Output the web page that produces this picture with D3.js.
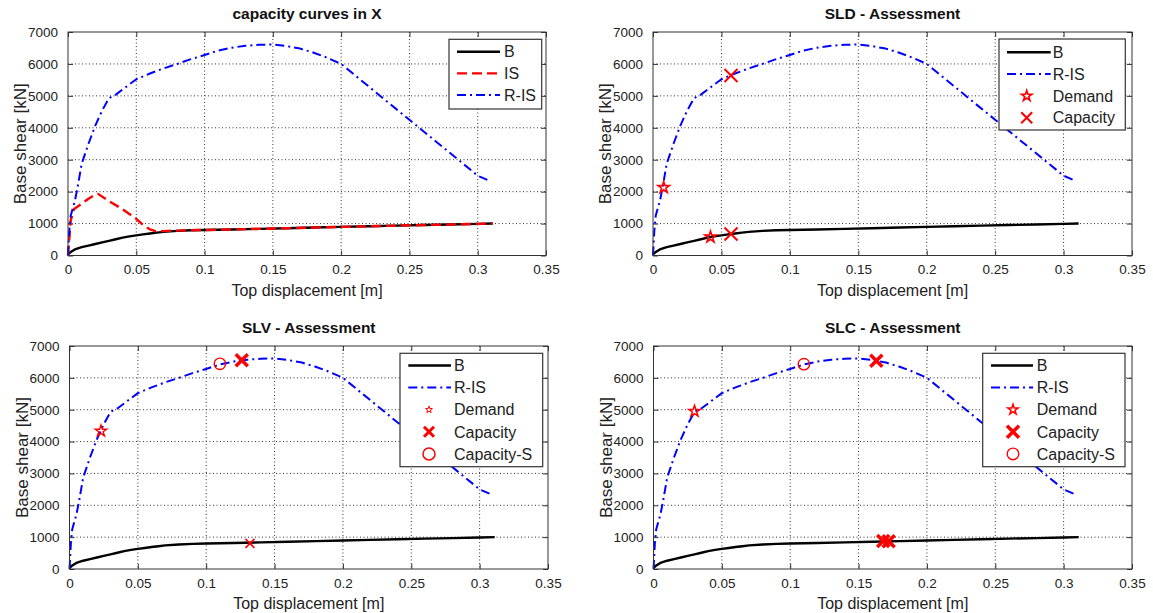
<!DOCTYPE html>
<html>
<head>
<meta charset="utf-8">
<script src="https://cdn.jsdelivr.net/npm/d3@7"></script>
<style>
body{margin:0;background:#fff;}
svg{display:block;font-family:"Liberation Sans",Arial,sans-serif;}
</style>
</head>
<body>
<div id="plot"></div>
<script>
// capacity curves (top displacement [m], base shear [kN])
var bX = [0,0.002,0.005,0.01,0.015,0.02,0.025,0.03,0.035,0.04,0.045,0.05,0.055,0.06,0.065,0.07,0.08,0.09,0.1,0.12,0.14,0.16,0.18,0.2,0.22,0.24,0.26,0.28,0.3,0.311];
var bY = [40,110,190,260,310,360,410,460,510,560,600,630,660,690,715,740,770,790,800,815,835,855,875,895,915,935,955,970,990,1000];

var isX = [0,0.002,0.0045,0.01,0.015,0.02,0.022,0.03,0.04,0.05,0.055,0.06,0.064,0.07,0.08,0.1,0.12,0.14,0.16,0.18,0.2,0.22,0.24,0.26,0.28,0.3,0.311];
var isY = [0,1100,1460,1620,1780,1910,1930,1700,1450,1150,950,820,760,765,780,800,815,835,855,875,895,915,935,955,970,990,1000];

var risX = [0,0.001,0.002,0.005,0.007,0.01,0.015,0.02,0.025,0.03,0.035,0.04,0.05,0.06,0.07,0.08,0.09,0.1,0.11,0.12,0.13,0.14,0.15,0.16,0.17,0.18,0.19,0.2,0.21,0.22,0.23,0.24,0.25,0.26,0.27,0.28,0.29,0.3,0.308];
var risY = [0,800,1250,1700,2130,2870,3500,4070,4540,4930,5040,5200,5520,5700,5860,6000,6150,6280,6420,6510,6570,6600,6610,6560,6480,6350,6190,6000,5650,5300,4950,4600,4250,3900,3550,3200,2850,2500,2350];

var xTicks = [0,0.05,0.1,0.15,0.2,0.25,0.3,0.35];
var xTickLabels = ['0','0.05','0.1','0.15','0.2','0.25','0.3','0.35'];
var yTicks = [0,1000,2000,3000,4000,5000,6000,7000];

var titles = ['capacity curves in X','SLD - Assessment','SLV - Assessment','SLC - Assessment'];

// assessment points
var sldDemandX = [0.0078,0.042], sldDemandY = [2130,580];
var sldCapX = [0.057,0.057], sldCapY = [5640,675];
var slvDemandX = [0.023], slvDemandY = [4330];
var slvCapRX = [0.126], slvCapRY = [6550];
var slvCapBX = [0.132], slvCapBY = [805];
var slvCapSX = [0.11], slvCapSY = [6440];
var slcDemandX = [0.03], slcDemandY = [4950];
var slcCapX = [0.163,0.168,0.172], slcCapY = [6540,880,870];
var slcCapSX = [0.11], slcCapSY = [6430];

var zip = function(xs, ys){ return xs.map(function(x,i){ return [x, ys[i]]; }); };

var curves = {
  'B':    {pts: zip(bX,bY),     color:'#000', width:2.4, dash:null},
  'IS':   {pts: zip(isX,isY),   color:'#f00', width:2.4, dash:'10,5'},
  'R-IS': {pts: zip(risX,risY), color:'#00f', width:2, dash:'9,4,2,4'}
};

// layout of the four axes
var panels = [
  {title:0, l:68, t:32, r:546, b:255.5, curves:['B','IS','R-IS'], marks:[],
   legend:{x:449, y:39.3, w:92.7, h:69.7, lx1:457, lx2:500, mx:478, tx:504, y0:51.7, dy:21.7,
     items:[{c:'B'},{c:'IS'},{c:'R-IS'}]}},
  {title:1, l:653, t:32, r:1132, b:255.5, curves:['B','R-IS'],
   marks:[
     {type:'star', pts:zip(sldDemandX,sldDemandY), size:6, sw:1.6},
     {type:'x', pts:zip(sldCapX,sldCapY), size:6.5, sw:2}],
   legend:{x:999, y:39, w:126.3, h:91, lx1:1007, lx2:1050.7, mx:1026.7, tx:1052.7, y0:52.3, dy:21.8,
     items:[{c:'B'},{c:'R-IS'},{m:{type:'star',size:5.5,sw:1.6},label:'Demand'},{m:{type:'x',size:5.5,sw:2},label:'Capacity'}]}},
  {title:2, l:69.5, t:346, r:548, b:569, curves:['B','R-IS'],
   marks:[
     {type:'star', pts:zip(slvDemandX,slvDemandY), size:6, sw:1.4},
     {type:'circle', pts:zip(slvCapSX,slvCapSY), size:5.7, sw:1.4},
     {type:'x', pts:zip(slvCapRX,slvCapRY), size:6, sw:3.5},
     {type:'x', pts:zip(slvCapBX,slvCapBY), size:4.5, sw:1.6}],
   legend:{x:400, y:353.3, w:142.7, h:113.4, lx1:408.3, lx2:451, mx:429, tx:454, y0:365.5, dy:22.1,
     items:[{c:'B'},{c:'R-IS'},{m:{type:'star',size:3.6,sw:1},label:'Demand'},{m:{type:'x',size:5,sw:3},label:'Capacity'},{m:{type:'circle',size:6,sw:1.5},label:'Capacity-S'}]}},
  {title:3, l:653.5, t:346, r:1132, b:569, curves:['B','R-IS'],
   marks:[
     {type:'star', pts:zip(slcDemandX,slcDemandY), size:6, sw:1.5},
     {type:'circle', pts:zip(slcCapSX,slcCapSY), size:5.7, sw:1.4},
     {type:'x', pts:zip(slcCapX,slcCapY), size:6, sw:3.5}],
   legend:{x:982.7, y:353.3, w:142.3, h:113.4, lx1:991, lx2:1033, mx:1013, tx:1036.7, y0:365.5, dy:22.1,
     items:[{c:'B'},{c:'R-IS'},{m:{type:'star',size:5.4,sw:1.5},label:'Demand'},{m:{type:'x',size:6,sw:3.5},label:'Capacity'},{m:{type:'circle',size:5.8,sw:1.4},label:'Capacity-S'}]}}
];

var svg = d3.select('#plot').append('svg')
    .attr('width',1153)
    .attr('height',613);

svg.append('rect').attr('width',1153).attr('height',613).attr('fill','#fff');

function marker(g, m, x, y){
  if(m.type=='star'){
    g.append('path')
      .attr('d', d3.symbol(d3.symbolStar, m.size*m.size/0.8908130915292852)())
      .attr('transform','translate('+x+','+y+')')
      .attr('fill','none').attr('stroke','#f00').attr('stroke-width',m.sw)
      .attr('stroke-linejoin','miter');
  } else if(m.type=='x'){
    var s = m.size;
    g.append('path')
      .attr('d','M'+(x-s)+','+(y-s)+'L'+(x+s)+','+(y+s)+'M'+(x-s)+','+(y+s)+'L'+(x+s)+','+(y-s))
      .attr('stroke','#f00').attr('stroke-width',m.sw).attr('fill','none');
  } else {
    g.append('circle').attr('cx',x).attr('cy',y).attr('r',m.size)
      .attr('fill','none').attr('stroke','#f00').attr('stroke-width',m.sw);
  }
}

panels.forEach(function(p){
  var x = d3.scaleLinear().domain([0,0.35]).range([p.l,p.r]);
  var y = d3.scaleLinear().domain([0,7000]).range([p.b,p.t]);
  var g = svg.append('g');

  // grid
  g.selectAll('.gx').data(xTicks.slice(1,-1)).enter().append('line')
    .attr('x1',function(d){return x(d);}).attr('x2',function(d){return x(d);})
    .attr('y1',p.t).attr('y2',p.b)
    .attr('stroke','#333').attr('stroke-width',1).attr('stroke-dasharray','1,2.5');
  g.selectAll('.gy').data(yTicks.slice(1,-1)).enter().append('line')
    .attr('y1',function(d){return y(d);}).attr('y2',function(d){return y(d);})
    .attr('x1',p.l).attr('x2',p.r)
    .attr('stroke','#333').attr('stroke-width',1).attr('stroke-dasharray','1,2.5');

  // axes (ticks inward)
  var ax = d3.axisBottom(x).tickValues(xTicks).tickSizeInner(-5).tickSizeOuter(0)
      .tickFormat(function(d,i){return xTickLabels[i];}).tickPadding(9);
  var ay = d3.axisLeft(y).tickValues(yTicks).tickSizeInner(-5).tickSizeOuter(0)
      .tickFormat(d3.format('d')).tickPadding(10);
  var axT = d3.axisTop(x).tickValues(xTicks).tickSizeInner(-5).tickSizeOuter(0).tickFormat('');
  var ayR = d3.axisRight(y).tickValues(yTicks).tickSizeInner(-5).tickSizeOuter(0).tickFormat('');

  [ [ax,'translate(0,'+p.b+')'], [ay,'translate('+p.l+',0)'], [axT,'translate(0,'+p.t+')'], [ayR,'translate('+p.r+',0)'] ]
    .forEach(function(a){
      var ga = g.append('g').attr('transform',a[1]).call(a[0]);
      ga.select('.domain').remove();
      ga.selectAll('line').attr('stroke','#333');
      ga.selectAll('text').attr('font-size','13.5px').attr('fill','#222')
        .attr('font-family','"Liberation Sans",Arial,sans-serif');
    });

  // curves
  var line = d3.line().x(function(d){return x(d[0]);}).y(function(d){return y(d[1]);});
  p.curves.forEach(function(c){
    var cv = curves[c];
    g.append('path').datum(cv.pts).attr('d',line)
      .attr('fill','none').attr('stroke',cv.color).attr('stroke-width',cv.width)
      .attr('stroke-dasharray',cv.dash).attr('stroke-linejoin','round');
  });

  // assessment markers
  p.marks.forEach(function(m){
    m.pts.forEach(function(d){ marker(g, m, x(d[0]), y(d[1])); });
  });

  // frame
  g.append('rect').attr('x',p.l).attr('y',p.t).attr('width',p.r-p.l).attr('height',p.b-p.t)
    .attr('fill','none').attr('stroke','#333').attr('stroke-width',1);

  // labels
  g.append('text').attr('x',(p.l+p.r)/2).attr('y',p.t-13)
    .attr('text-anchor','middle').attr('font-size','15.5px').attr('font-weight','bold').attr('fill','#111')
    .text(titles[p.title]);
  g.append('text').attr('x',(p.l+p.r)/2).attr('y',p.b+40)
    .attr('text-anchor','middle').attr('font-size','16px').attr('fill','#222')
    .text('Top displacement [m]');
  g.append('text').attr('transform','translate('+(p.l-42)+','+((p.t+p.b)/2)+') rotate(-90)')
    .attr('text-anchor','middle').attr('font-size','17px').attr('fill','#222')
    .text('Base shear [kN]');

  // legend
  var L = p.legend;
  g.append('rect').attr('x',L.x).attr('y',L.y).attr('width',L.w).attr('height',L.h)
    .attr('fill','#fff').attr('stroke','#333').attr('stroke-width',1.2);
  L.items.forEach(function(it,i){
    var yy = L.y0 + i*L.dy;
    if(it.c){
      var cv = curves[it.c];
      g.append('line').attr('x1',L.lx1).attr('x2',L.lx2).attr('y1',yy).attr('y2',yy)
        .attr('stroke',cv.color).attr('stroke-width',cv.width).attr('stroke-dasharray',cv.dash);
    } else {
      marker(g, it.m, L.mx, yy);
    }
    g.append('text').attr('x',L.tx).attr('y',yy).attr('dy','0.36em')
      .attr('font-size','16px').attr('fill','#222').text(it.c || it.label);
  });
});
</script>
</body>
</html>
